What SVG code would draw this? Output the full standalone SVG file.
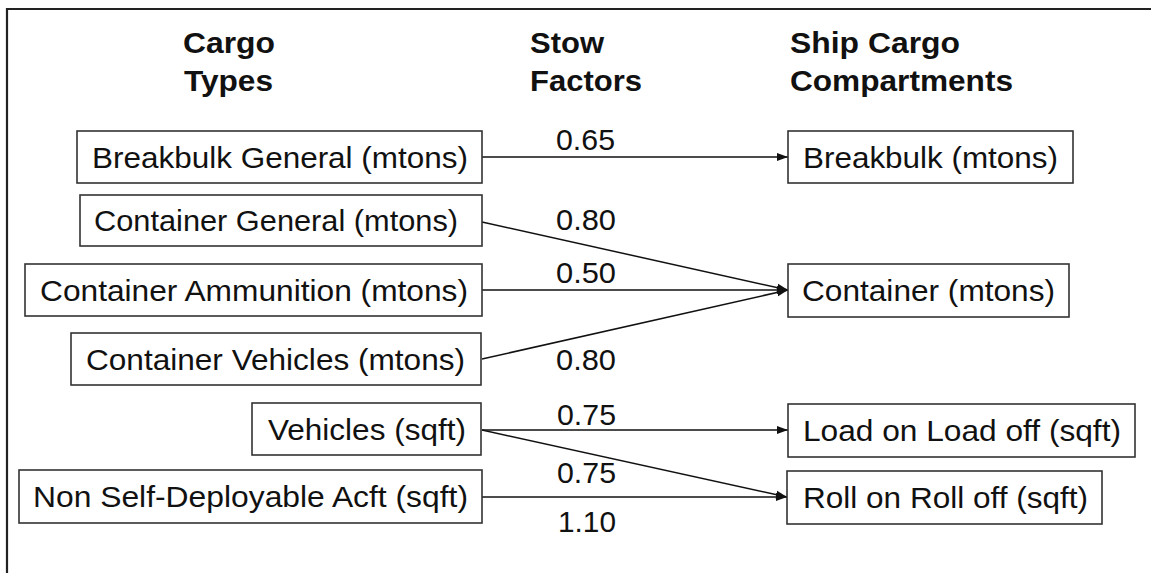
<svg xmlns="http://www.w3.org/2000/svg" width="1151" height="573" viewBox="0 0 1151 573">
<defs>
<style>
.box{fill:#fff;stroke:#333;stroke-width:1.6}
.t{font-family:"Liberation Sans",Arial,sans-serif;font-size:30px;fill:#111}
.h{font-family:"Liberation Sans",Arial,sans-serif;font-size:29px;font-weight:bold;fill:#111}
.c{stroke:#111;stroke-width:1.5;fill:none;marker-end:url(#ah)}
</style>
<marker id="ah" markerWidth="12" markerHeight="10" refX="11" refY="5" orient="auto" markerUnits="userSpaceOnUse">
<path d="M0,1 L11,5 L0,9 Z" fill="#111"/>
</marker>
</defs>
<rect width="1151" height="573" fill="#fff"/>
<path d="M7,573 L7,9 L1151,9" fill="none" stroke="#222" stroke-width="2.2"/>
<g id="headers">
<text class="h" x="183" y="53" textLength="92" lengthAdjust="spacingAndGlyphs">Cargo</text>
<text class="h" x="184" y="91" textLength="89" lengthAdjust="spacingAndGlyphs">Types</text>
<text class="h" x="530" y="53" textLength="74" lengthAdjust="spacingAndGlyphs">Stow</text>
<text class="h" x="530" y="91" textLength="112" lengthAdjust="spacingAndGlyphs">Factors</text>
<text class="h" x="790" y="53" textLength="170" lengthAdjust="spacingAndGlyphs">Ship Cargo</text>
<text class="h" x="790" y="91" textLength="223" lengthAdjust="spacingAndGlyphs">Compartments</text>
</g>
<g id="connectors">
<line class="c" x1="482" y1="157" x2="788" y2="157"/>
<line class="c" x1="482" y1="222" x2="788" y2="290"/>
<line class="c" x1="482" y1="290" x2="788" y2="290"/>
<line class="c" x1="482" y1="359" x2="788" y2="290"/>
<line class="c" x1="482" y1="430" x2="788" y2="430"/>
<line class="c" x1="482" y1="430" x2="787" y2="497"/>
<line class="c" x1="482" y1="497" x2="787" y2="497"/>
<text class="t" x="556" y="150" textLength="59" lengthAdjust="spacingAndGlyphs">0.65</text>
<text class="t" x="556" y="230" textLength="60" lengthAdjust="spacingAndGlyphs">0.80</text>
<text class="t" x="556" y="283" textLength="60" lengthAdjust="spacingAndGlyphs">0.50</text>
<text class="t" x="556" y="370" textLength="60" lengthAdjust="spacingAndGlyphs">0.80</text>
<text class="t" x="557" y="425" textLength="59" lengthAdjust="spacingAndGlyphs">0.75</text>
<text class="t" x="557" y="483" textLength="59" lengthAdjust="spacingAndGlyphs">0.75</text>
<text class="t" x="558" y="532" textLength="58" lengthAdjust="spacingAndGlyphs">1.10</text>
</g>
<g id="breakbulk-general"><rect class="box" x="77" y="131" width="405" height="52"/><text class="t" x="92" y="168" textLength="376" lengthAdjust="spacingAndGlyphs">Breakbulk General (mtons)</text></g>
<g id="container-general"><rect class="box" x="80" y="195" width="402" height="51"/><text class="t" x="94" y="231" textLength="364" lengthAdjust="spacingAndGlyphs">Container General (mtons)</text></g>
<g id="container-ammunition"><rect class="box" x="25" y="264" width="457" height="52"/><text class="t" x="40" y="301" textLength="428" lengthAdjust="spacingAndGlyphs">Container Ammunition (mtons)</text></g>
<g id="container-vehicles"><rect class="box" x="71" y="333" width="410" height="52"/><text class="t" x="86" y="370" textLength="379" lengthAdjust="spacingAndGlyphs">Container Vehicles (mtons)</text></g>
<g id="vehicles"><rect class="box" x="252" y="403" width="229" height="52"/><text class="t" x="268" y="440" textLength="198" lengthAdjust="spacingAndGlyphs">Vehicles (sqft)</text></g>
<g id="non-self-deployable"><rect class="box" x="19" y="470" width="463" height="53"/><text class="t" x="33" y="507" textLength="435" lengthAdjust="spacingAndGlyphs">Non Self-Deployable Acft (sqft)</text></g>
<g id="breakbulk"><rect class="box" x="788" y="131" width="285" height="52"/><text class="t" x="803" y="168" textLength="255" lengthAdjust="spacingAndGlyphs">Breakbulk (mtons)</text></g>
<g id="container"><rect class="box" x="788" y="264" width="281" height="53"/><text class="t" x="802" y="301" textLength="253" lengthAdjust="spacingAndGlyphs">Container (mtons)</text></g>
<g id="load-on-load-off"><rect class="box" x="788" y="404" width="347" height="53"/><text class="t" x="803" y="441" textLength="318" lengthAdjust="spacingAndGlyphs">Load on Load off (sqft)</text></g>
<g id="roll-on-roll-off"><rect class="box" x="787" y="471" width="315" height="53"/><text class="t" x="803" y="508" textLength="285" lengthAdjust="spacingAndGlyphs">Roll on Roll off (sqft)</text></g>
</svg>
